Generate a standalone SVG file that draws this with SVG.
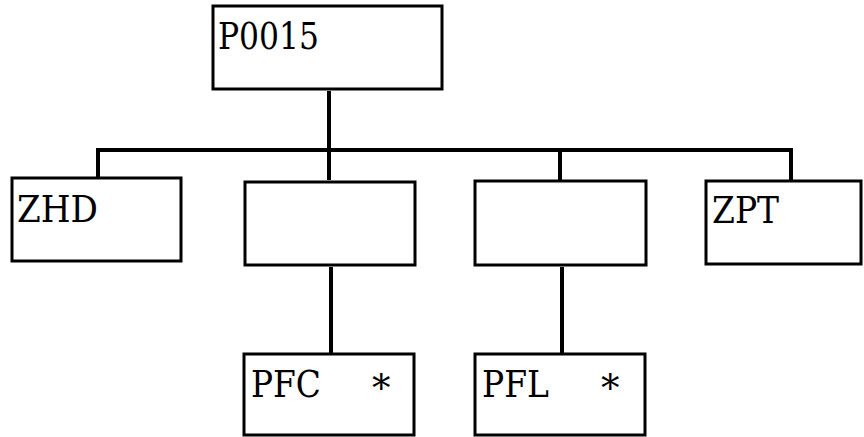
<svg xmlns="http://www.w3.org/2000/svg" width="864" height="437" viewBox="0 0 864 437">
<style>
.box{fill:#fff;stroke:#000;stroke-width:3}
.con{stroke:#000;stroke-width:4;fill:none}
text{font-family:'DejaVu Serif','Liberation Serif',serif;font-size:37px;fill:#000}
</style>
<rect width="864" height="437" fill="#fff"/>
<g id="connectors">
<line class="con" x1="329" y1="91" x2="329" y2="180"/>
<polyline class="con" points="98,179 98,150 791,150 791,181"/>
<line class="con" x1="560" y1="150" x2="560" y2="181"/>
<line class="con" x1="331" y1="267" x2="331" y2="354"/>
<line class="con" x1="562" y1="267" x2="562" y2="354"/>
</g>
<g id="P0015"><rect class="box" x="213" y="6" width="229" height="83"/><text x="218" y="49" textLength="101" lengthAdjust="spacingAndGlyphs">P0015</text></g>
<g id="ZHD"><rect class="box" x="12" y="178" width="169" height="83"/><text x="17" y="222" textLength="81" lengthAdjust="spacingAndGlyphs">ZHD</text></g>
<g id="node2"><rect class="box" x="245" y="182" width="170" height="83"/></g>
<g id="node3"><rect class="box" x="475" y="181" width="171" height="84"/></g>
<g id="ZPT"><rect class="box" x="706" y="181" width="155" height="83"/><text x="712" y="223" textLength="67" lengthAdjust="spacingAndGlyphs">ZPT</text></g>
<g id="PFC"><rect class="box" x="244" y="354" width="170" height="81"/><text x="251" y="397" textLength="70" lengthAdjust="spacingAndGlyphs">PFC</text><text x="372" y="401">*</text></g>
<g id="PFL"><rect class="box" x="475" y="354" width="170" height="81"/><text x="482" y="397" textLength="67" lengthAdjust="spacingAndGlyphs">PFL</text><text x="601" y="401">*</text></g>
</svg>
